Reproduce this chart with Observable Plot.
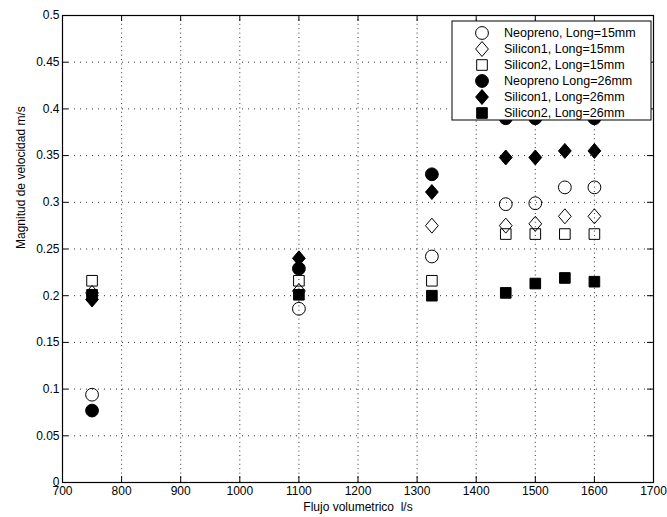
<!DOCTYPE html>
<html><head><meta charset="utf-8">
<script src="https://cdn.jsdelivr.net/npm/d3@7"></script>
<script src="https://cdn.jsdelivr.net/npm/@observablehq/plot@0.6"></script>
<style>body{margin:0;background:#fff} #chart{width:667px;height:517px}</style>
</head><body><div id="chart"></div>
<script>
const flujo = [750, 1100, 1325, 1450, 1500, 1550, 1600];
const neopreno15 = [0.094, 0.186, 0.242, 0.298, 0.299, 0.316, 0.316];
const silicon1_15 = [0.203, 0.205, 0.275, 0.275, 0.277, 0.285, 0.285];
const silicon2_15 = [0.216, 0.216, 0.216, 0.266, 0.266, 0.266, 0.266];
const neopreno26 = [0.077, 0.229, 0.330, 0.390, 0.390, 0.400, 0.390];
const silicon1_26 = [0.196, 0.240, 0.311, 0.348, 0.348, 0.355, 0.355];
const silicon2_26 = [0.201, 0.201, 0.200, 0.203, 0.213, 0.219, 0.215];
const seriesNames = ["Neopreno, Long=15mm","Silicon1, Long=15mm","Silicon2, Long=15mm","Neopreno Long=26mm","Silicon1, Long=26mm","Silicon2, Long=26mm"];
const xTicks = [700, 800, 900, 1000, 1100, 1200, 1300, 1400, 1500, 1600, 1700];
const yTicks = [0, 0.05, 0.1, 0.15, 0.2, 0.25, 0.3, 0.35, 0.4, 0.45, 0.5];

const symbols = {
  circle: {draw(ctx, size){const r=Math.sqrt(size/Math.PI); ctx.moveTo(r,0); ctx.arc(0,0,r,0,2*Math.PI); ctx.closePath();}},
  diamond: {draw(ctx, size){const r=Math.sqrt(size/Math.PI); const w=r, h=r*1.17; ctx.moveTo(0,-h); ctx.lineTo(w,0); ctx.lineTo(0,h); ctx.lineTo(-w,0); ctx.closePath();}},
  square: {draw(ctx, size){const r=Math.sqrt(size/Math.PI); const s=r*0.83; ctx.moveTo(-s,-s); ctx.lineTo(s,-s); ctx.lineTo(s,s); ctx.lineTo(-s,s); ctx.closePath();}}
};
const allValues = [neopreno15, silicon1_15, silicon2_15, neopreno26, silicon1_26, silicon2_26];
const shapes = ["circle","diamond","square","circle","diamond","square"];
const filled = [false,false,false,true,true,true];

const W = 667, H = 517, mL = 62, mR = 14, mT = 15, mB = 35;
const iW = W - mL - mR, iH = H - mT - mB, tk = 6;
const R = 6.4;
const FONT = "'Liberation Sans', Arial, sans-serif";

const dotMarks = allValues.map((vals, i) => Plot.dot(flujo.map((x, j) => ({x, y: vals[j]})), {
  x: "x", y: "y", r: R, symbol: symbols[shapes[i]],
  fill: filled[i] ? "black" : "none", stroke: "black", strokeWidth: 1
}));

const chart = Plot.plot({
  width: W, height: H,
  marginLeft: mL, marginRight: mR, marginTop: mT, marginBottom: mB,
  style: {fontFamily: FONT, fontSize: "12px", color: "black", background: "white", overflow: "visible"},
  x: {domain: [700, 1700]},
  y: {domain: [0, 0.5]},
  marks: [
    Plot.gridX(xTicks, {stroke: "#333", strokeOpacity: 1, strokeWidth: 1, strokeDasharray: "1,3.4"}),
    Plot.gridY(yTicks, {stroke: "#333", strokeOpacity: 1, strokeWidth: 1, strokeDasharray: "1,5"}),
    Plot.tickX(xTicks, {x: d => d, insetTop: iH - tk, stroke: "black"}),
    Plot.tickX(xTicks, {x: d => d, insetBottom: iH - tk, stroke: "black"}),
    Plot.tickY(yTicks, {y: d => d, insetRight: iW - tk, stroke: "black"}),
    Plot.tickY(yTicks, {y: d => d, insetLeft: iW - tk, stroke: "black"}),
    Plot.frame({stroke: "black", strokeWidth: 1.2}),
    Plot.axisX(xTicks, {tickSize: 0, tickPadding: 4, label: null, fontSize: 12, fill: "black", tickFormat: d => String(d)}),
    Plot.axisY(yTicks, {tickSize: 0, tickPadding: 3, label: null, fontSize: 12, fill: "black", tickFormat: d => String(d)}),
    Plot.text(["Flujo volumetrico\u00a0 l/s"], {frameAnchor: "bottom", dy: 28, fontSize: 12, fill: "black"}),
    Plot.text(["Magnitud de velocidad m/s"], {frameAnchor: "left", dx: -41, rotate: -90, fontSize: 12, fill: "black"}),
    ...dotMarks
  ]
});
document.getElementById("chart").appendChild(chart);

// legend drawn on top of the data, inside the axes
const svg = d3.select(chart);
const lg = svg.append("g").attr("transform", "translate(452,21)");
lg.append("rect").attr("width", 199).attr("height", 99).attr("fill", "white").attr("stroke", "black").attr("stroke-width", 1);
seriesNames.forEach((name, i) => {
  const cy = 12 + i * 16;
  lg.append("path")
    .attr("d", d3.symbol(symbols[shapes[i]], Math.PI * R * R)())
    .attr("transform", `translate(30,${cy})`)
    .attr("fill", filled[i] ? "black" : "none").attr("stroke", "black");
  lg.append("text").attr("x", 52).attr("y", cy).attr("dy", "0.35em")
    .attr("text-anchor", "start")
    .attr("font-size", 12.5).attr("fill", "black")
    .attr("font-family", FONT).text(name);
});
</script>
</body></html>
